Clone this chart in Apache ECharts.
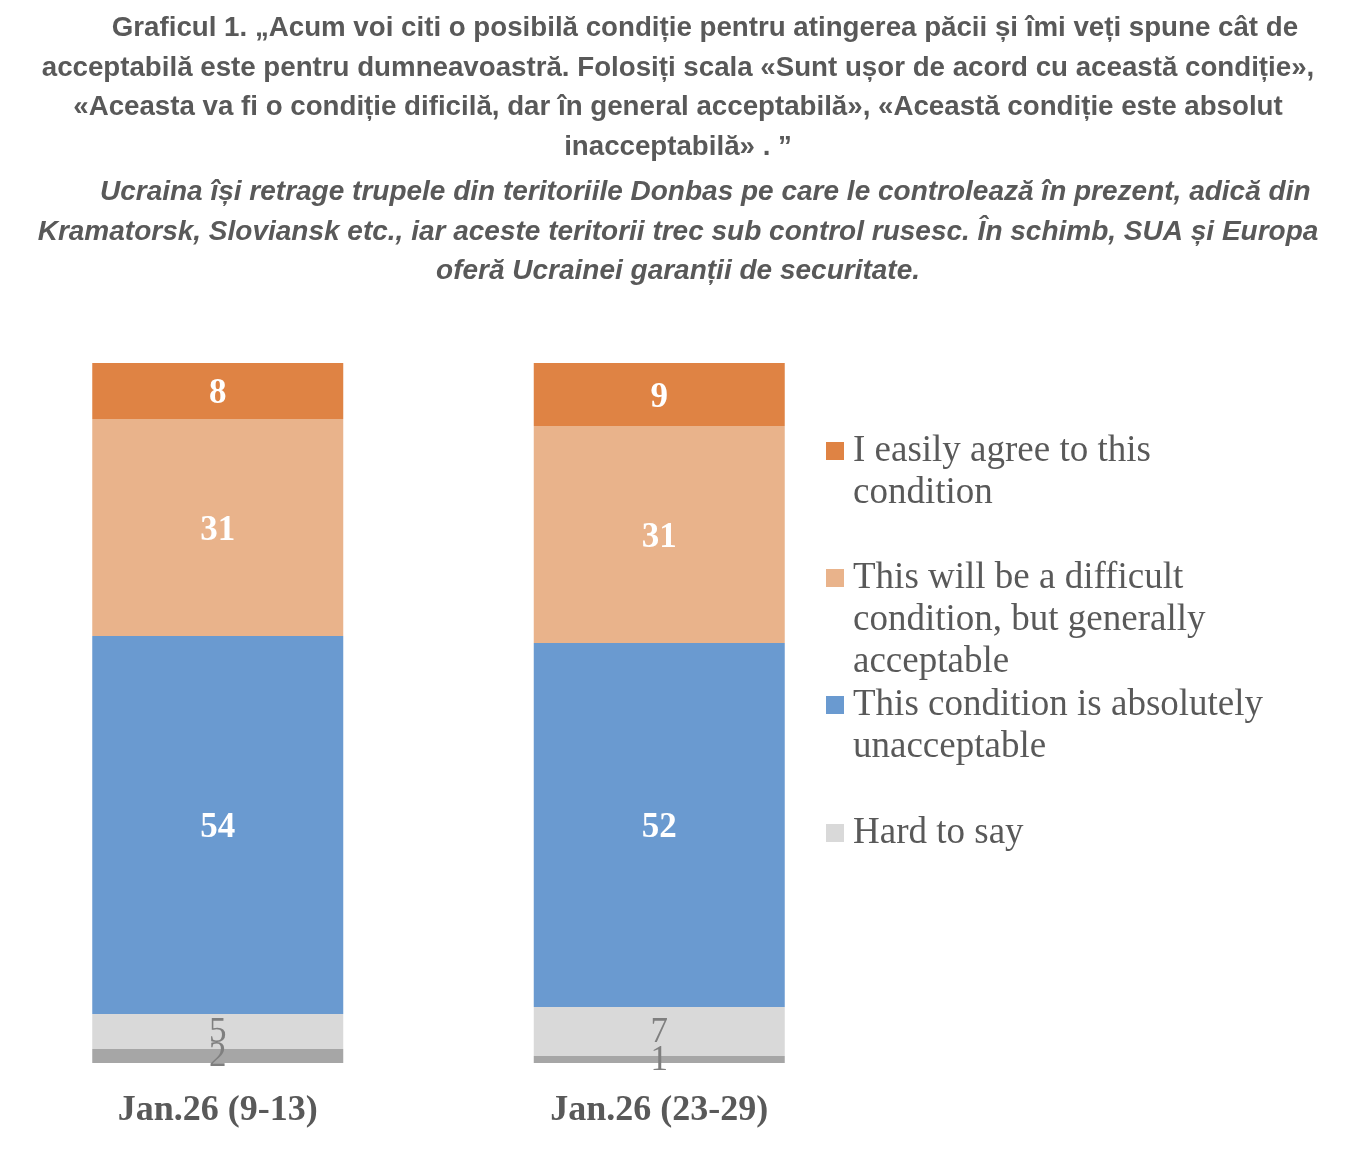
<!DOCTYPE html>
<html>
<head>
<meta charset="utf-8">
<script src="https://cdn.jsdelivr.net/npm/echarts@6/dist/echarts.min.js"></script>
<style>
html,body{margin:0;padding:0;background:#fff;}
#chart{width:1356px;height:1156px;}
</style>
</head>
<body>
<div id="chart"></div>
<script>
const categories = ['Jan.26 (9-13)', 'Jan.26 (23-29)'];
const easilyAgree = [8, 9];
const difficult = [31, 31];
const unacceptable = [54, 52];
const hardToSay = [5, 7];
const refused = [2, 1];

const seriesNames = [
  'I easily agree to this condition',
  'This will be a difficult condition, but generally acceptable',
  'This condition is absolutely unacceptable',
  'Hard to say',
  'Refused to answer'
];
const legendLines = {
  'I easily agree to this condition': ['I easily agree to this', 'condition'],
  'This will be a difficult condition, but generally acceptable': ['This will be a difficult', 'condition, but generally', 'acceptable'],
  'This condition is absolutely unacceptable': ['This condition is absolutely', 'unacceptable'],
  'Hard to say': ['Hard to say']
};

const titleLine1 = '\u00a0\u00a0\u00a0\u00a0\u00a0\u00a0\u00a0Graficul 1. „Acum voi citi o posibilă condiție pentru atingerea păcii și îmi veți spune cât de\nacceptabilă este pentru dumneavoastră. Folosiți scala «Sunt ușor de acord cu această condiție»,\n«Aceasta va fi o condiție dificilă, dar în general acceptabilă», «Această condiție este absolut\ninacceptabilă» . ”';
const titleLine2 = '\u00a0\u00a0\u00a0\u00a0\u00a0\u00a0\u00a0Ucraina își retrage trupele din teritoriile Donbas pe care le controlează în prezent, adică din\nKramatorsk, Sloviansk etc., iar aceste teritorii trec sub control rusesc. În schimb, SUA și Europa\noferă Ucrainei garanții de securitate.';

const colors = ['#DF8344', '#E9B38B', '#6A9AD0', '#D9D9D9', '#A6A6A6'];
const SERIF = '"Liberation Serif", "Times New Roman", serif';
const SANS = '"Liberation Sans", Arial, sans-serif';

const chart = echarts.init(document.getElementById('chart'), null, {renderer: 'canvas'});

function whiteLabel() {
  return {show: true, position: 'inside', offset: [0, 3], color: '#FFFFFF', fontFamily: SERIF, fontWeight: 'bold', fontSize: 35};
}
function grayLabel() {
  return {show: true, position: 'inside', offset: [0, 1], color: '#7F7F7F', fontFamily: SERIF, fontWeight: 'normal', fontSize: 35};
}

const legendCfg = [
  {name: seriesNames[0], top: 388},
  {name: seriesNames[1], top: 473},
  {name: seriesNames[2], top: 642},
  {name: seriesNames[3], top: 812}
];

const legends = legendCfg.map(function (c) {
  return {
    left: 826,
    top: c.top,
    padding: 0,
    orient: 'vertical',
    selectedMode: false,
    itemWidth: 18,
    itemHeight: 18,
    itemGap: 0,
    icon: 'rect',
    data: [c.name],
    formatter: function (name) {
      const lines = legendLines[name];
      const pad = [];
      for (let i = 1; i < lines.length; i++) pad.push('');
      return pad.concat(lines).join('\n');
    },
    textStyle: {
      fontFamily: SERIF,
      fontSize: 37,
      lineHeight: 42,
      color: '#595959',
      padding: [0, 0, 0, 4]
    }
  };
});

const option = {
  backgroundColor: '#FFFFFF',
  animation: false,
  title: [
    {
      text: titleLine1,
      left: 'center',
      top: 9,
      padding: 0,
      textStyle: {fontFamily: SANS, fontWeight: 'bold', fontSize: 27.7, lineHeight: 39.5, color: '#595959'}
    },
    {
      text: titleLine2,
      left: 'center',
      top: 173,
      padding: 0,
      textStyle: {fontFamily: SANS, fontWeight: 'bold', fontStyle: 'italic', fontSize: 28, lineHeight: 39.5, color: '#595959'}
    }
  ],
  legend: legends,
  grid: {left: -3, width: 883, top: 363, height: 700, containLabel: false, outerBoundsMode: 'none'},
  xAxis: {
    type: 'category',
    data: categories,
    axisLine: {show: false},
    axisTick: {show: false},
    axisLabel: {fontFamily: SERIF, fontWeight: 'bold', fontSize: 36, color: '#595959', margin: 30}
  },
  yAxis: {
    type: 'value',
    min: 0,
    max: 100,
    show: false,
    splitLine: {show: false}
  },
  series: [
    {name: seriesNames[4], type: 'bar', stack: 'total', data: refused, barWidth: 251, itemStyle: {color: colors[4]}, label: grayLabel()},
    {name: seriesNames[3], type: 'bar', stack: 'total', data: hardToSay, barWidth: 251, itemStyle: {color: colors[3]}, label: grayLabel()},
    {name: seriesNames[2], type: 'bar', stack: 'total', data: unacceptable, barWidth: 251, itemStyle: {color: colors[2]}, label: whiteLabel()},
    {name: seriesNames[1], type: 'bar', stack: 'total', data: difficult, barWidth: 251, itemStyle: {color: colors[1]}, label: whiteLabel()},
    {name: seriesNames[0], type: 'bar', stack: 'total', data: easilyAgree, barWidth: 251, itemStyle: {color: colors[0]}, label: whiteLabel()}
  ]
};

chart.setOption(option);
</script>
</body>
</html>
